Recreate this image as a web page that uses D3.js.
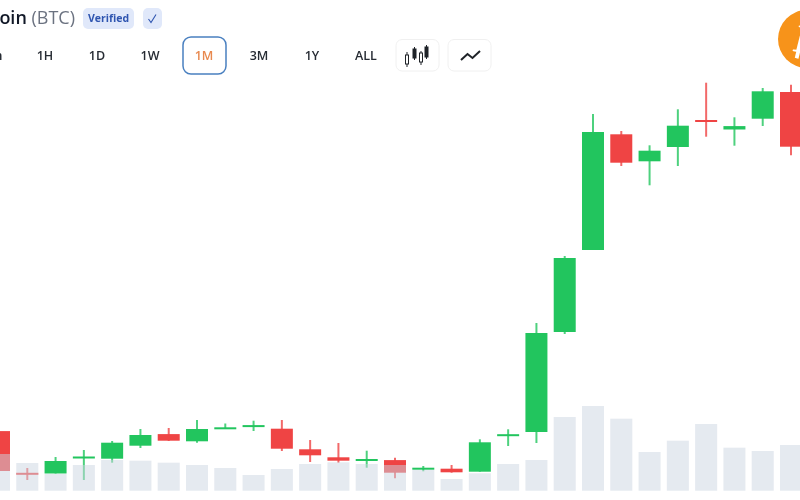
<!DOCTYPE html>
<html>
<head>
<meta charset="utf-8">
<script src="https://cdn.jsdelivr.net/npm/d3@7"></script>
<style>
  html, body { margin: 0; padding: 0; background: #fff; overflow: hidden; }
  svg { display: block; font-family: "Open Sans", sans-serif; filter: blur(0.4px); }
</style>
</head>
<body>
<div class="chart"></div>
<script>
// values, price is in chart units because the axis is not shown
const opens  = [68.9, 27.2, 26.5, 42.5, 41.3, 54.3, 65.9, 58.7, 71.8, 73.5, 71.3, 50.7, 42.7, 40.2, 39.9, 31.5, 31.3, 28.3, 64.8, 68, 168, 250, 365.7, 338.7, 353, 380, 370.5, 381.3, 408];
const closes = [29,   26.5, 39,   43.5, 57.3, 65,   59.3, 71,   72.7, 74.9, 51.3, 44.7, 39.3, 41,   27.3, 32.3, 27.7, 57.7, 65.8, 167, 242, 368, 337.3, 349.3, 374.3, 378.5, 373.9, 408.7, 353.3];
const highs  = [70,   32,   43,   50,   59,   71,   72,   80,   76.5, 79.3, 80,   60,   57,   49.3, 42.3, 34,   35,   60.7, 70.7, 177, 244, 386, 369,  354.7, 390.7, 417.3, 382.7, 412, 415.3];
const lows   = [26,   20,   26.5, 20,   37.3, 52,   59,   57.3, 71.3, 69,   49,   38,   37.3, 32.3, 21.7, 28.7, 27.3, 28.3, 54,   57,  166, 250, 334,  314.7, 334,  363.3, 354.3, 374,  344.7];
const volumes = [36.7, 27.7, 16.7, 25.7, 30.7, 30, 28, 25.7, 22.7, 15.7, 21.7, 26.7, 28.4, 26.7, 25.7, 20.7, 11.7, 17.4, 26.7, 30.7, 73.7, 84.7, 72, 38.7, 50, 66.7, 43, 39.7, 45.7];

const ranges = ["1m", "1H", "1D", "1W", "1M", "3M", "1Y", "ALL"];
const rangeCenters = [-7, 45, 97, 150, 204, 259, 312, 366];
const activeRange = "1M";

const width = 800;
const height = 500;
const candles = opens.map((o, i) => ({ i: i, open: o, close: closes[i], high: highs[i], low: lows[i], volume: volumes[i] }));

const svg = d3.select(".chart")
  .append("svg")
  .attr("width", width)
  .attr("height", height);

const x = d3.scaleLinear().domain([0, 28]).range([-1, 791]);
const y = d3.scaleLinear().domain([0, 500]).range([500, 0]);
const yVol = d3.scaleLinear().domain([0, 85]).range([490.7, 405.7]);
const barWidth = 22;
const color = d => d.close >= d.open ? "#22c55e" : "#ef4444";

// Candles
const candle = svg.append("g").selectAll("g")
  .data(candles)
  .enter()
  .append("g");

candle.append("line")
  .attr("x1", d => x(d.i))
  .attr("x2", d => x(d.i))
  .attr("y1", d => y(d.high))
  .attr("y2", d => y(d.low))
  .attr("stroke", color)
  .attr("stroke-opacity", 0.8)
  .attr("stroke-width", 2);

candle.append("rect")
  .attr("x", d => x(d.i) - barWidth / 2)
  .attr("width", barWidth)
  .attr("y", d => y(Math.max(d.open, d.close)))
  .attr("height", d => Math.max(2, Math.abs(y(d.open) - y(d.close))))
  .attr("fill", color);

// Volume sits on top of the candles, half transparent
svg.append("g").selectAll("rect")
  .data(candles)
  .enter()
  .append("rect")
  .attr("x", d => x(d.i) - barWidth / 2)
  .attr("width", barWidth)
  .attr("y", d => yVol(d.volume))
  .attr("height", d => yVol(0) - yVol(d.volume))
  .attr("fill", "#cbd5e1")
  .attr("fill-opacity", 0.5);

// Title row
const title = svg.append("text")
  .attr("x", 75)
  .attr("y", 24)
  .attr("text-anchor", "end")
  .attr("font-size", 18);
title.append("tspan").attr("font-weight", 600).attr("fill", "#111827").text("Bitcoin ");
title.append("tspan").attr("fill", "#6b7280").text("(BTC)");

svg.append("rect").attr("x", 83).attr("y", 8).attr("width", 51).attr("height", 21).attr("rx", 5).attr("fill", "#e0e8fa");
svg.append("text").attr("x", 108.5).attr("y", 22).attr("text-anchor", "middle")
  .attr("font-size", 10.5).attr("font-weight", 700).attr("fill", "#2f55b0").text("Verified");
svg.append("rect").attr("x", 143).attr("y", 8).attr("width", 19).attr("height", 21).attr("rx", 5).attr("fill", "#e0e8fa");
svg.append("path").attr("d", "M148.5 19l2.5 3.5 5-8").attr("fill", "none").attr("stroke", "#2f55b0").attr("stroke-width", 1.1);

// Range buttons
svg.append("rect")
  .attr("x", 183).attr("y", 37).attr("width", 43).attr("height", 37).attr("rx", 8)
  .attr("fill", "#fff").attr("stroke", "#4a80c0").attr("stroke-width", 1.5);

svg.append("g").selectAll("text")
  .data(ranges)
  .enter()
  .append("text")
  .attr("x", (d, i) => rangeCenters[i])
  .attr("y", 60)
  .attr("text-anchor", "middle")
  .attr("font-size", 12.5)
  .attr("font-weight", 600)
  .attr("fill", d => d === activeRange ? "#e8894f" : "#262b33")
  .text(d => d);

// Chart type buttons
[396, 448].forEach(bx => {
  svg.append("rect")
    .attr("x", bx).attr("y", 39.5).attr("width", 43).attr("height", 31.5).attr("rx", 6)
    .attr("fill", "#fff").attr("stroke", "#f0f0f0");
});

const icon = svg.append("g").attr("stroke", "#1f2328").attr("stroke-width", 1);
[[407, 55, 64, 52, 67, false], [414.5, 49, 58, 47, 60, true], [421, 53, 62, 51, 65, false], [426.5, 47, 57, 45, 59, true]].forEach(c => {
  icon.append("line").attr("x1", c[0]).attr("x2", c[0]).attr("y1", c[3]).attr("y2", c[4]);
  icon.append("rect").attr("x", c[0] - 1.5).attr("y", c[1]).attr("width", 3).attr("height", c[2] - c[1])
    .attr("fill", c[5] ? "#1f2328" : "#fff");
});

svg.append("path")
  .attr("d", "M461 60l6.5-6 5 4 7.5-7")
  .attr("fill", "none").attr("stroke", "#1f2328").attr("stroke-width", 2);

// Bitcoin logo, cut off by the right edge
svg.append("circle").attr("cx", 807).attr("cy", 39).attr("r", 29).attr("fill", "#f7931a");
svg.append("text")
  .attr("transform", "translate(805,54) rotate(14)")
  .attr("text-anchor", "middle")
  .attr("font-family", "DejaVu Sans")
  .attr("font-size", 40)
  .attr("font-weight", 700)
  .attr("fill", "#fff")
  .text("₿");
</script>
</body>
</html>
